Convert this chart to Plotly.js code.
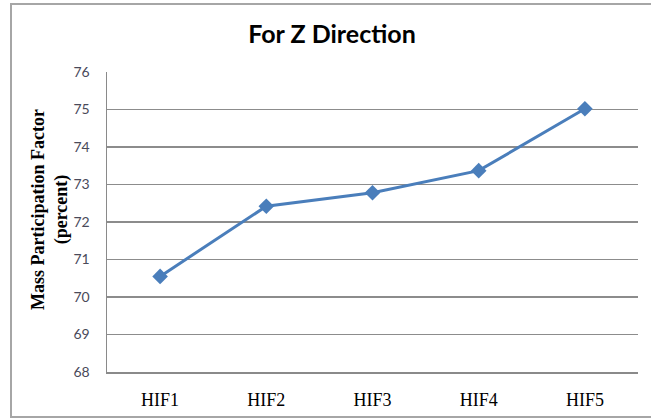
<!DOCTYPE html>
<html>
<head>
<meta charset="utf-8">
<script src="https://cdn.plot.ly/plotly-3.0.1.min.js"></script>
<style>
html,body{margin:0;padding:0;background:#fff;}
#chart{width:651px;height:419px;}
</style>
</head>
<body>
<div id="chart"></div>
<script>
const categories = ["HIF1", "HIF2", "HIF3", "HIF4", "HIF5"];
const massParticipation = [70.55, 72.42, 72.78, 73.37, 75.02];
const yTickValues = [68, 69, 70, 71, 72, 73, 74, 75, 76];
const chartTitle = "For Z Direction";
const yAxisLabel = "Mass Participation Factor<br>(percent)";

const W = 651, H = 419;
const L = 107, R = 13, T = 72, B = 47;
const pw = W - L - R, ph = H - T - B;
function px(x){ return (x - L) / pw; }
function py(y){ return (H - B - y) / ph; }

const trace = {
  x: categories,
  y: massParticipation,
  type: "scatter",
  mode: "lines+markers",
  line: {color: "#4a7ebb", width: 3},
  marker: {symbol: "diamond", size: 12, color: "#4a7ebb"},
  cliponaxis: false,
  showlegend: false,
  hoverinfo: "x+y"
};

const layout = {
  width: W, height: H,
  margin: {l: L, r: R, t: T, b: B, pad: 0},
  paper_bgcolor: "#ffffff",
  plot_bgcolor: "#ffffff",
  title: {
    text: "<b>" + chartTitle + "</b>",
    font: {family: "Lato, 'Open Sans', sans-serif", size: 25, color: "#000000"},
    x: 332 / W, xanchor: "center", xref: "container",
    y: 1 - 34 / H, yanchor: "middle", yref: "container"
  },
  xaxis: {
    type: "category",
    range: [-0.5, 4.5],
    showgrid: false,
    zeroline: false,
    showline: true,
    linecolor: "#8a8a8a",
    linewidth: 1.5,
    ticks: "",
    ticklabelstandoff: 11,
    tickfont: {family: "'Liberation Serif', 'Times New Roman', serif", size: 18, color: "#000000"},
    fixedrange: true
  },
  yaxis: {
    range: [68, 76],
    tickvals: yTickValues,
    ticktext: yTickValues.map(String),
    showgrid: true,
    gridcolor: "#8c8c8c",
    gridwidth: 1.2,
    zeroline: false,
    showline: true,
    linecolor: "#8a8a8a",
    linewidth: 1.5,
    ticks: "",
    ticklabelstandoff: 13,
    tickfont: {family: "Lato, 'Open Sans', sans-serif", size: 14, color: "#4a4a5a"},
    fixedrange: true
  },
  annotations: [{
    text: "<b>" + yAxisLabel + "</b>",
    xref: "paper", yref: "paper",
    x: px(50), y: py(210),
    xanchor: "center", yanchor: "middle",
    textangle: -90,
    showarrow: false,
    align: "center",
    font: {family: "'Liberation Serif', 'Times New Roman', serif", size: 18, color: "#000000"}
  }],
  shapes: [{
    type: "rect",
    xref: "paper", yref: "paper",
    x0: px(11), x1: px(660),
    y0: py(417), y1: py(4),
    line: {color: "#a6a6a6", width: 2},
    fillcolor: "rgba(0,0,0,0)",
    layer: "below"
  }]
};

Plotly.newPlot("chart", [trace], layout, {displayModeBar: false, staticPlot: true});
</script>
</body>
</html>
